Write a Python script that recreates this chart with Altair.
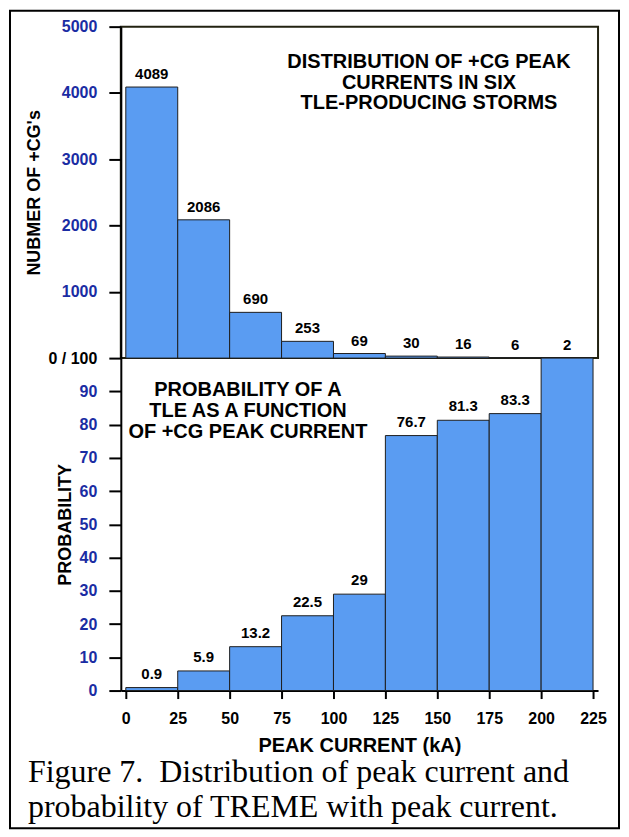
import altair as alt
import pandas as pd

# ---- data ----
bin_start = [0, 25, 50, 75, 100, 125, 150, 175, 200]
bin_end = [25, 50, 75, 100, 125, 150, 175, 200, 225]
counts = [4089, 2086, 690, 253, 69, 30, 16, 6, 2]
count_labels = ["4089", "2086", "690", "253", "69", "30", "16", "6", "2"]
probability = [0.9, 5.9, 13.2, 22.5, 29, 76.7, 81.3, 83.3, 100]
prob_labels = ["0.9", "5.9", "13.2", "22.5", "29", "76.7", "81.3", "83.3", ""]
x_ticks = [0, 25, 50, 75, 100, 125, 150, 175, 200, 225]
count_ticks = [0, 1000, 2000, 3000, 4000, 5000]
prob_ticks = [0, 10, 20, 30, 40, 50, 60, 70, 80, 90]

top_note = "DISTRIBUTION OF +CG PEAK\nCURRENTS IN SIX\nTLE-PRODUCING STORMS"
bottom_note = "PROBABILITY OF A\nTLE AS A FUNCTION\nOF +CG PEAK CURRENT"
caption = "Figure 7.\u00a0 Distribution of peak current and\nprobability of TREME with peak current."

df = pd.DataFrame({
    "start": bin_start,
    "end": bin_end,
    "mid": [(a + b) / 2 for a, b in zip(bin_start, bin_end)],
    "count": counts,
    "count_label": count_labels,
    "prob": probability,
    "prob_label": prob_labels,
})

FILL = "#5a9cf2"
EDGE = "#1e1e1e"
BLUE = "#1a2ca3"
SANS = "Liberation Sans"

W, H_TOP, H_BOT = 478, 332, 333

xscale = alt.Scale(domain=[0, 225], nice=False, zero=False)
top_y = alt.Scale(domain=[0, 5000], nice=False)
bot_y = alt.Scale(domain=[0, 100], nice=False)

top_axis = alt.Axis(
    values=count_ticks,
    title="NUBMER OF +CG's",
    labelExpr="datum.value == 0 ? '0 / 100' : datum.label",
    labelColor={"condition": {"test": "datum.value == 0", "value": "black"}, "value": BLUE},
    format="d", tickSize=12, labelPadding=12, titlePadding=5, labelOverlap=False,
)
bot_x_axis = alt.Axis(
    values=x_ticks, title="PEAK CURRENT (kA)", format="d",
    tickSize=8, labelPadding=12, titlePadding=9, labelColor="black", labelOverlap=False,
)
bot_y_axis = alt.Axis(
    values=prob_ticks, title="PROBABILITY", format="d",
    tickSize=12, labelPadding=12, titlePadding=5, labelColor=BLUE, labelOverlap=False,
)

# ---------------- top panel ----------------
top_bars = alt.Chart(df).mark_bar(fill=FILL, stroke=EDGE, strokeWidth=1, orient="vertical").encode(
    x=alt.X("start:Q", scale=xscale, axis=None),
    x2="end:Q",
    y=alt.Y("count:Q", scale=top_y, axis=top_axis),
    y2=alt.datum(0),
)

top_labels = alt.Chart(df).mark_text(
    font=SANS, fontWeight="bold", fontSize=15, baseline="bottom", dy=-5, color="black"
).encode(
    x=alt.X("mid:Q", scale=xscale, axis=None),
    y=alt.Y("count:Q", scale=top_y, axis=top_axis),
    text="count_label:N",
)

top_text = alt.Chart(pd.DataFrame({"x": [146], "y": [4460], "t": [top_note]})).mark_text(
    font=SANS, fontWeight="bold", fontSize=20, lineBreak="\n", lineHeight=20.5,
    align="center", baseline="middle", color="black"
).encode(
    x=alt.X("x:Q", scale=xscale, axis=None),
    y=alt.Y("y:Q", scale=top_y, axis=top_axis),
    text="t:N",
)

frame = alt.Chart(pd.DataFrame({"k": [0]})).mark_rect(
    fillOpacity=0, stroke="black", strokeWidth=2
).encode(
    x=alt.value(-111), x2=alt.value(499), y=alt.value(-16), y2=alt.value(803)
)

top = alt.layer(top_bars, top_labels, top_text, frame).properties(
    width=W, height=H_TOP,
    view=alt.ViewBackground(stroke="#222211", strokeWidth=2),
)

# ---------------- bottom panel ----------------
bot_bars = alt.Chart(df).mark_bar(fill=FILL, stroke=EDGE, strokeWidth=1, orient="vertical").encode(
    x=alt.X("start:Q", scale=xscale, axis=bot_x_axis),
    x2="end:Q",
    y=alt.Y("prob:Q", scale=bot_y, axis=bot_y_axis),
    y2=alt.datum(0),
)

bot_labels = alt.Chart(df).mark_text(
    font=SANS, fontWeight="bold", fontSize=15, baseline="bottom", dy=-6, color="black"
).encode(
    x=alt.X("mid:Q", scale=xscale, axis=bot_x_axis),
    y=alt.Y("prob:Q", scale=bot_y, axis=bot_y_axis),
    text="prob_label:N",
)

bot_text = alt.Chart(pd.DataFrame({"x": [58.8], "y": [90.3], "t": [bottom_note]})).mark_text(
    font=SANS, fontWeight="bold", fontSize=20, lineBreak="\n", lineHeight=21,
    align="center", baseline="middle", color="black"
).encode(
    x=alt.X("x:Q", scale=xscale, axis=bot_x_axis),
    y=alt.Y("y:Q", scale=bot_y, axis=bot_y_axis),
    text="t:N",
)

cap = alt.Chart(pd.DataFrame({"t": [caption]})).mark_text(
    font="Liberation Serif", fontSize=32, lineBreak="\n", lineHeight=35,
    align="left", baseline="top", color="black"
).encode(x=alt.value(-93), y=alt.value(400), text="t:N")

bottom = alt.layer(bot_bars, bot_labels, bot_text, cap).properties(
    width=W, height=H_BOT,
    view=alt.ViewBackground(stroke="transparent"),
)

chart = alt.vconcat(top, bottom, spacing=0, bounds="flush").properties(
    padding=0, background="white"
).configure_axis(
    grid=False, labelOverlap=False,
    domainColor="black", domainWidth=2,
    tickColor="black", tickWidth=2,
    labelFont=SANS, labelFontWeight="bold", labelFontSize=16,
    titleFont=SANS, titleFontWeight="bold", titleFontSize=18, titleColor="black",
).configure_axisX(titleFontSize=20)

chart.save("out.html", embed_options={"renderer": "svg", "actions": False})
